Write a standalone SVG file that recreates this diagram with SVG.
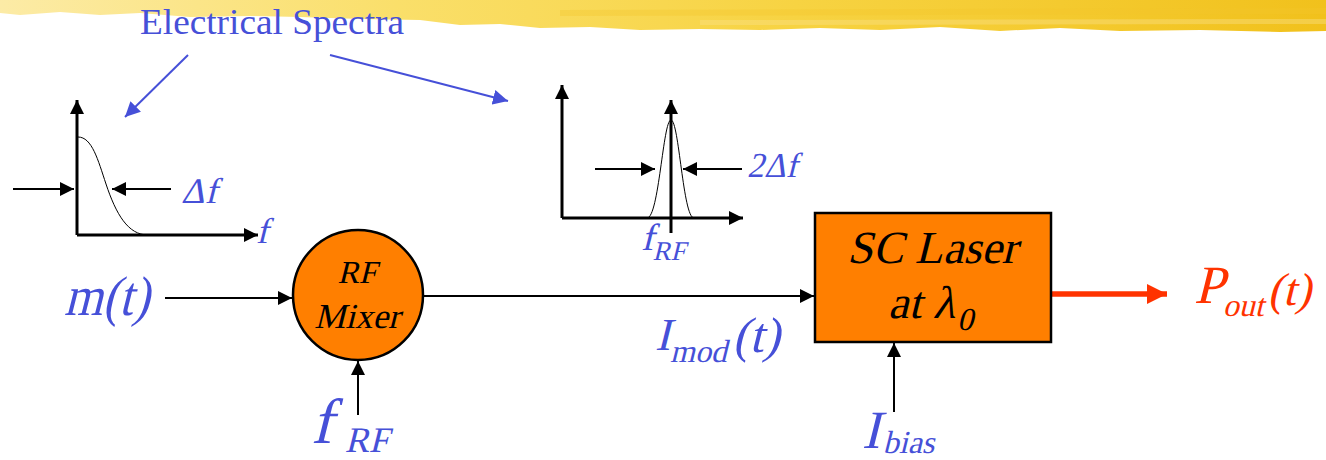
<svg xmlns="http://www.w3.org/2000/svg" width="1326" height="460" viewBox="0 0 1326 460">
<defs>
<linearGradient id="brush" x1="0" y1="0" x2="1" y2="0">
<stop offset="0" stop-color="#FCEBA6"/>
<stop offset="0.3" stop-color="#FADF6A"/>
<stop offset="0.6" stop-color="#F7D342"/>
<stop offset="1" stop-color="#F1C11C"/>
</linearGradient>
<marker id="ahb" viewBox="0 0 10 10" refX="10" refY="5" markerWidth="15" markerHeight="15" markerUnits="userSpaceOnUse" orient="auto">
<path d="M0,0 L10,5 L0,10 z" fill="#4650D8"/>
</marker>
<marker id="ahr" viewBox="0 0 10 10" refX="10" refY="5" markerWidth="20" markerHeight="20" markerUnits="userSpaceOnUse" orient="auto">
<path d="M0,0 L10,5 L0,10 z" fill="#FF3300"/>
</marker>
<marker id="ahk" viewBox="0 0 10 10" refX="10" refY="5" markerWidth="14" markerHeight="14" markerUnits="userSpaceOnUse" orient="auto">
<path d="M0,0 L10,5 L0,10 z" fill="#000"/>
</marker>
</defs>
<style>
text{font-family:"Liberation Serif","Times New Roman",serif;font-style:normal}
.t{fill:#4650D8}
.k{fill:#000}
.r{fill:#FF3300}
.ax{stroke:#000;stroke-width:3;fill:none}
.ln{stroke:#000;stroke-width:2;fill:none}
.cv{stroke:#000;stroke-width:1;fill:none}
.node{fill:#FF7F00;stroke:#000;stroke-width:2.5}
</style>
<rect width="1326" height="460" fill="#fff"/>
<path d="M0,0 H1326 V31 L1280,32 1200,30 1120,31 1060,28 1000,31 940,27 880,30 820,28 760,30 700,29 640,30 590,27 540,28 500,24 460,25 420,20 360,19 300,17 250,16 190,17 140,13 100,15 60,12 20,15 0,13 Z" fill="url(#brush)"/>
<path d="M560,10 L1326,8 V14 L560,16 Z" fill="#F3C52A" opacity="0.35"/>
<path d="M700,20 L1326,19 V24 L700,25 Z" fill="#FBE28A" opacity="0.4"/>
<text x="140" y="34" font-size="36" textLength="264" lengthAdjust="spacingAndGlyphs" fill="#4650D8">Electrical Spectra</text>
<g id="connectors">
<line x1="188" y1="55" x2="125" y2="117" stroke="#4650D8" stroke-width="2" marker-end="url(#ahb)"/>
<line x1="330" y1="55" x2="508" y2="101" stroke="#4650D8" stroke-width="2" marker-end="url(#ahb)"/>
<line x1="165" y1="298" x2="292" y2="298" class="ln" marker-end="url(#ahk)"/>
<line x1="423" y1="296" x2="814" y2="296" class="ln" marker-end="url(#ahk)"/>
<line x1="358" y1="415" x2="358" y2="361" class="ln" marker-end="url(#ahk)"/>
<line x1="894" y1="412" x2="894" y2="343" class="ln" marker-end="url(#ahk)"/>
<line x1="1052" y1="294" x2="1167" y2="294" stroke="#FF3300" stroke-width="5.5" marker-end="url(#ahr)"/>
</g>
<g id="spectrum1">
<line x1="77" y1="235" x2="77" y2="100" class="ax" marker-end="url(#ahk)"/>
<line x1="77" y1="235" x2="258" y2="235" class="ax" marker-end="url(#ahk)"/>
<path d="M78,137 C92,137 98,160 106,184 C116,214 128,235 148,235" class="cv"/>
<line x1="13" y1="189" x2="74" y2="189" class="ln" marker-end="url(#ahk)"/>
<line x1="171" y1="189" x2="112" y2="189" class="ln" marker-end="url(#ahk)"/>
<g transform="translate(181,203) skewX(-14)"><text x="0" y="0" class="t" font-size="36" textLength="36" lengthAdjust="spacingAndGlyphs">Δf</text></g>
<g transform="translate(256,243) skewX(-14)"><text x="0" y="0" class="t" font-size="36">f</text></g>
</g>
<g id="spectrum2">
<line x1="562" y1="218" x2="562" y2="85" class="ax" marker-end="url(#ahk)"/>
<line x1="562" y1="218" x2="743" y2="218" class="ax" marker-end="url(#ahk)"/>
<line x1="671" y1="233" x2="671" y2="100" class="ax" marker-end="url(#ahk)"/>
<path d="M647,218 C659,218 663,120 671,120 C679,120 683,218 694,218" class="cv"/>
<line x1="595" y1="169" x2="655" y2="169" class="ln" marker-end="url(#ahk)"/>
<line x1="742" y1="169" x2="683" y2="169" class="ln" marker-end="url(#ahk)"/>
<g transform="translate(747,177) skewX(-14)"><text x="0" y="0" class="t" font-size="35" textLength="50" lengthAdjust="spacingAndGlyphs">2Δf</text></g>
<g transform="translate(641,250) skewX(-14)"><text class="t"><tspan x="0" y="0" font-size="38">f</tspan><tspan x="14" y="10" font-size="27">RF</tspan></text></g>
</g>
<g id="mt"><g transform="translate(64,315) skewX(-14)"><text x="0" y="0" class="t" font-size="56" textLength="85" lengthAdjust="spacingAndGlyphs">m(t)</text></g></g>
<g id="mixer">
<circle cx="358" cy="295" r="65" class="node"/>
<g transform="translate(357,283) skewX(-14)"><text x="0" y="0" class="k" font-size="32" text-anchor="middle">RF</text></g>
<g transform="translate(357,328) skewX(-14)"><text x="0" y="0" class="k" font-size="35" text-anchor="middle">Mixer</text></g>
</g>
<g id="frf"><g transform="translate(311,443) skewX(-14)"><text class="t"><tspan x="0" y="0" font-size="64">f</tspan><tspan x="36" y="9" font-size="36">RF</tspan></text></g></g>
<g id="imod"><g transform="translate(655,350) skewX(-14)"><text class="t"><tspan x="0" y="0" font-size="46">I</tspan><tspan x="18" y="12" font-size="32">mod</tspan><tspan x="78" y="2" font-size="50">(t)</tspan></text></g></g>
<g id="laser">
<rect x="815" y="213" width="236" height="129" class="node"/>
<g transform="translate(932,263) skewX(-14)"><text x="0" y="0" class="k" font-size="46" text-anchor="middle">SC Laser</text></g>
<g transform="translate(888,318) skewX(-14)"><text class="k"><tspan x="0" y="0" font-size="46">at λ</tspan><tspan x="72" y="12" font-size="32">0</tspan></text></g>
</g>
<g id="ibias"><g transform="translate(862,448) skewX(-14)"><text class="t"><tspan x="0" y="0" font-size="54">I</tspan><tspan x="22" y="5" font-size="32">bias</tspan></text></g></g>
<g id="pout"><g transform="translate(1194,303) skewX(-14)"><text class="r"><tspan x="0" y="0" font-size="54">P</tspan><tspan x="32" y="13" font-size="32">out</tspan><tspan x="74" y="2" font-size="46">(t)</tspan></text></g></g>
</svg>
